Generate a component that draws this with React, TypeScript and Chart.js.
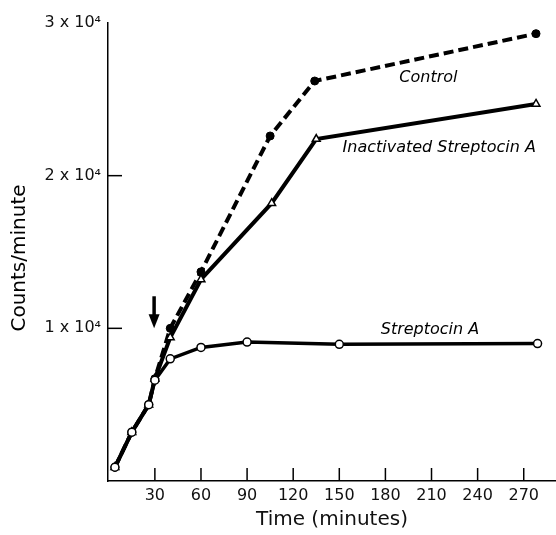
import React, { useEffect, useRef } from "react";
import { Chart, registerables } from "chart.js";
Chart.register(...registerables);

const xTickValues = [30, 60, 90, 120, 150, 180, 210, 240, 270];
const yTickValues = [10000, 20000, 30000];
const yTickLabels = ["1 x 10⁴", "2 x 10⁴", "3 x 10⁴"];

const controlTimes = [4, 15, 26, 30, 40, 60, 105, 134, 278];
const controlCounts = [900, 3200, 5000, 6700, 10000, 13700, 22600, 26200, 29300];
const inactTimes = [4, 15, 26, 30, 40, 60, 106, 135, 278];
const inactCounts = [900, 3200, 5000, 6700, 9400, 13200, 18200, 22400, 24700];
const strepTimes = [4, 15, 26, 30, 40, 60, 90, 150, 279];
const strepCounts = [900, 3200, 5000, 6600, 8000, 8750, 9100, 8950, 9000];

const seriesNames = ["Control", "Inactivated Streptocin A", "Streptocin A"];
const labelTimes = [208, 215, 209];
const labelCounts = [26400, 21800, 9900];

const arrowTime = 29.5;
const arrowFrom = 12100;
const arrowTo = 10000;

const FONT = '"DejaVu Sans", sans-serif';

const annotate = {
  id: "annotate",
  afterDraw(chart: any) {
    const { ctx, chartArea, scales } = chart;
    const x = scales.x;
    const y = scales.y;
    ctx.save();
    ctx.strokeStyle = "#000";
    ctx.fillStyle = "#000";
    ctx.lineWidth = 1.5;
    xTickValues.forEach((v) => {
      const px = x.getPixelForValue(v);
      ctx.beginPath();
      ctx.moveTo(px, chartArea.bottom);
      ctx.lineTo(px, chartArea.bottom - 13);
      ctx.stroke();
    });
    yTickValues.forEach((v) => {
      if (v >= y.max) return;
      const py = y.getPixelForValue(v);
      ctx.beginPath();
      ctx.moveTo(chartArea.left, py);
      ctx.lineTo(chartArea.left + 14, py);
      ctx.stroke();
    });
    // series labels
    ctx.font = "italic 16px " + FONT;
    ctx.textAlign = "center";
    ctx.textBaseline = "middle";
    seriesNames.forEach((n, i) => {
      ctx.fillText(n, x.getPixelForValue(labelTimes[i]), y.getPixelForValue(labelCounts[i]));
    });
    // arrow
    const ax = x.getPixelForValue(arrowTime);
    const y0 = y.getPixelForValue(arrowFrom);
    const y1 = y.getPixelForValue(arrowTo);
    ctx.lineWidth = 3.5;
    ctx.beginPath();
    ctx.moveTo(ax, y0);
    ctx.lineTo(ax, y1 - 10);
    ctx.stroke();
    ctx.beginPath();
    ctx.moveTo(ax - 5.5, y1 - 14);
    ctx.lineTo(ax + 5.5, y1 - 14);
    ctx.lineTo(ax, y1);
    ctx.closePath();
    ctx.fill();
    // y title
    ctx.translate(20, (chartArea.top + chartArea.bottom) / 2 + 6);
    ctx.rotate(-Math.PI / 2);
    ctx.font = "20px " + FONT;
    ctx.fillText("Counts/minute", 0, 0);
    ctx.restore();
  },
};

const toPts = (ts: number[], cs: number[]) => ts.map((t, i) => ({ x: t, y: cs[i] }));

export default function App() {
  const ref = useRef<HTMLCanvasElement>(null);
  useEffect(() => {
    if (!ref.current) return;
    const chart = new Chart(ref.current, {
      type: "line",
      data: {
        datasets: [
          {
            label: seriesNames[2],
            data: toPts(strepTimes, strepCounts),
            borderColor: "#000",
            borderWidth: 3.5,
            pointStyle: "circle",
            pointRadius: 4,
            pointBackgroundColor: "#fff",
            pointBorderColor: "#000",
            pointBorderWidth: 1.5,
            tension: 0,
            clip: false,
          },
          {
            label: seriesNames[1],
            data: toPts(inactTimes, inactCounts),
            borderColor: "#000",
            borderWidth: 4,
            pointStyle: "triangle",
            pointRadius: 4.5,
            pointBackgroundColor: "#fff",
            pointBorderColor: "#000",
            pointBorderWidth: 1.5,
            tension: 0,
            clip: false,
          },
          {
            label: seriesNames[0],
            data: toPts(controlTimes, controlCounts),
            borderColor: "#000",
            borderWidth: 4,
            borderDash: [10, 5],
            pointStyle: "circle",
            pointRadius: 4,
            pointBackgroundColor: "#000",
            pointBorderColor: "#000",
            pointBorderWidth: 1,
            tension: 0,
            clip: false,
          },
        ],
      },
      options: {
        animation: false,
        responsive: false,
        devicePixelRatio: 1,
        layout: { autoPadding: false, padding: { top: 23, right: 0, left: 0, bottom: 0 } },
        plugins: { legend: { display: false }, tooltip: { enabled: false } },
        scales: {
          x: {
            type: "linear",
            min: -0.5,
            max: 291,
            grid: { display: false, drawTicks: false },
            border: { display: true, color: "#000", width: 1.5 },
            afterBuildTicks: (s: any) => {
              s.ticks = xTickValues.map((v) => ({ value: v }));
            },
            afterFit: (s: any) => {
              s.height = 54;
              s.paddingLeft = 0;
              s.paddingRight = 0;
            },
            ticks: {
              color: "#111",
              font: { family: FONT, size: 16 },
              padding: 5,
              maxRotation: 0,
              autoSkip: false,
              callback: (v: any) => String(v),
            },
            title: {
              display: true,
              text: "Time (minutes)",
              color: "#111",
              font: { family: FONT, size: 20 },
              padding: { top: 0, bottom: 3 },
            },
          },
          y: {
            type: "linear",
            min: 0,
            max: 30000,
            grid: { display: false, drawTicks: false },
            border: { display: true, color: "#000", width: 1.5 },
            afterBuildTicks: (s: any) => {
              s.ticks = yTickValues.map((v) => ({ value: v }));
            },
            afterFit: (s: any) => {
              s.width = 108;
              s.paddingTop = 0;
              s.paddingBottom = 0;
            },
            ticks: {
              color: "#111",
              font: { family: FONT, size: 16 },
              padding: 7,
              autoSkip: false,
              callback: (_v: any, i: number) => yTickLabels[i],
            },
          },
        },
      },
      plugins: [annotate],
    });
    return () => chart.destroy();
  }, []);
  return (
    <div style={{ position: "fixed", left: 0, top: 0, width: 556, height: 535, background: "#fff" }}>
      <canvas ref={ref} width={556} height={535} style={{ display: "block" }} />
    </div>
  );
}
